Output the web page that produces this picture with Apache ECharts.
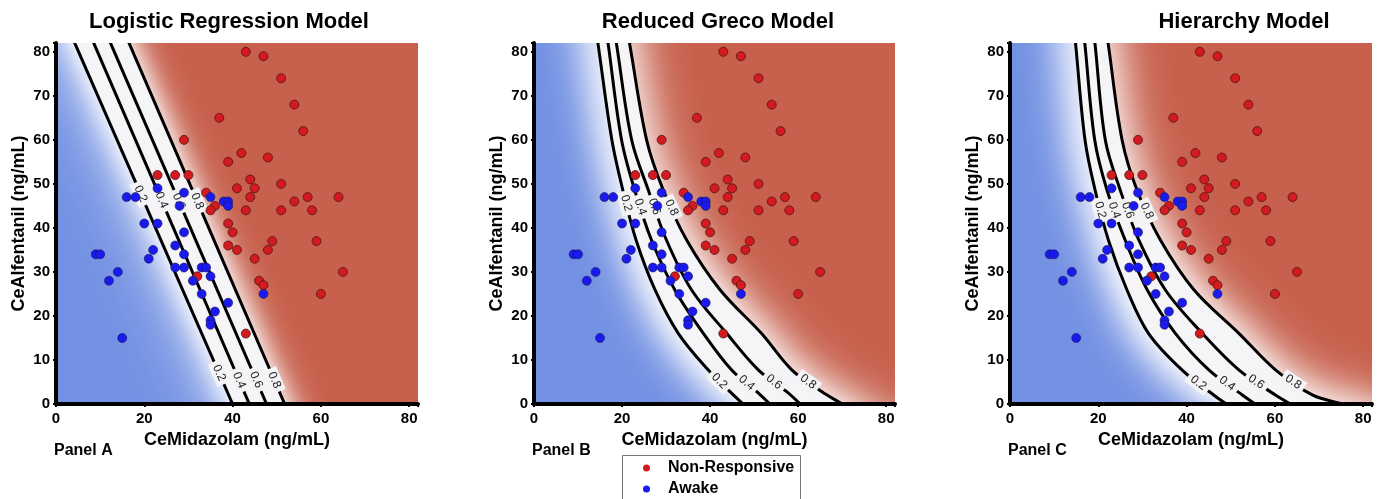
<!DOCTYPE html>
<html><head><meta charset="utf-8">
<script src="https://cdn.jsdelivr.net/npm/echarts@6/dist/echarts.min.js"></script>
<style>html,body{margin:0;padding:0;background:#fff}#c{width:1381px;height:499px}</style>
</head><body><div id="c"></div>
<script>
// ---------- data ----------
const nonResponsive = [[43,80],[47,79],[51,74],[54,68],[37,65],[56,62],[29,60],[42,57],[48,56],[39,55],[23,52],[27,52],[30,52],[44,51],[51,50],[41,49],[45,49],[34,48],[44,47],[57,47],[64,47],[54,46],[36,45],[35,44],[43,44],[51,44],[58,44],[39,41],[40,39],[49,37],[59,37],[39,36],[41,35],[48,35],[45,33],[65,30],[32,29],[46,28],[47,27],[60,25],[43,16]];
const awake = [[23,49],[29,48],[16,47],[18,47],[35,47],[38,46],[39,46],[39,45],[28,45],[20,41],[23,41],[29,39],[27,36],[29,34],[22,35],[21,33],[9,34],[10,34],[27,31],[29,31],[33,31],[34,31],[14,30],[12,28],[35,29],[31,28],[33,25],[47,25],[39,23],[36,21],[35,19],[35,18],[15,15]];

const contourLevels = ['0.2','0.4','0.6','0.8'];
const xTicks = [0,20,40,60,80];
const yTicks = [0,10,20,30,40,50,60,70,80];

// Logistic regression model contours
const logistic02 = [[4.5,81.4],[40.0,0]];
const logistic04 = [[8.8,81.4],[43.8,0]];
const logistic06 = [[12.6,81.4],[47.7,0]];
const logistic08 = [[16.8,81.4],[51.8,0]];
const logisticLabels = [[18.4,47.4,0],[23.9,46.3,1],[27.5,45.9,2],[31.6,45.9,3],[36.8,7.0,0],[41.5,5.4,1],[45.1,5.4,2],[49.4,5.4,3]];

// Reduced Greco model contours
const greco02 = [[14.6,81.4],[17.7,59.9],[20.2,48.5],[23.2,37.2],[27.5,25.9],[32.8,16.0],[39.6,7.7],[44.5,2.8],[47.5,0]];
const greco04 = [[16.9,81.4],[19.9,59.9],[22.9,48.5],[26.7,37.2],[32.0,25.9],[38.5,16.0],[44.9,7.7],[50.6,2.8],[53.6,0]];
const greco06 = [[18.8,81.4],[22.2,59.9],[26.0,48.5],[30.1,37.2],[35.8,25.9],[43.8,16.0],[51.0,7.7],[57.4,2.8],[60.5,0]];
const greco08 = [[21.8,81.4],[25.6,59.9],[29.4,48.5],[34.7,37.2],[42.3,25.9],[51.7,16.0],[58.6,7.7],[65.4,2.8],[70.0,0]];
const grecoLabels = [[20.5,45.5,0],[23.9,44.7,1],[27.0,44.7,2],[30.8,44.4,3],[42.0,5.1,0],[48.2,4.7,1],[54.3,4.7,2],[62.0,4.7,3]];

// Hierarchy model contours
const hier02 = [[14.9,81.4],[17.0,59.9],[19.3,48.5],[22.3,37.2],[26.5,25.9],[31.4,16.0],[39.0,7.7],[46.2,2.0],[49.0,0]];
const hier04 = [[17.0,81.4],[19.2,59.9],[22.0,48.5],[26.1,37.2],[31.1,25.9],[37.5,16.0],[45.1,7.7],[52.7,2.0],[55.5,0]];
const hier06 = [[19.3,81.4],[21.6,59.9],[25.0,48.5],[29.2,37.2],[35.2,25.9],[43.6,16.0],[51.9,7.7],[60.2,2.0],[63.5,0]];
const hier08 = [[22.3,81.4],[25.4,59.9],[28.8,48.5],[34.1,37.2],[41.7,25.9],[51.9,16.0],[60.2,7.7],[68.6,2.0],[75.4,0]];
const hierLabels = [[20.2,44.0,0],[23.7,44.0,1],[26.7,44.0,2],[31.3,44.0,3],[42.0,3.9,0],[48.5,3.7,1],[54.9,3.7,2],[63.3,3.7,3]];

// ---------- styling / layout ----------
const FONT = "'Liberation Sans', Arial, sans-serif";
const BLUE = '#7391e3', RED = '#c7604c';
const SMOOTH = 0.35;

const panels = [
  {grid:{left:56, top:43, width:362, height:361}, contours:[logistic02,logistic04,logistic06,logistic08], labels:logisticLabels,
   title:'Logistic Regression Model', tx:224, name:'Panel A', nx:49, blurBlue:80, blurRed:40},
  {grid:{left:534, top:43, width:361, height:361}, contours:[greco02,greco04,greco06,greco08], labels:grecoLabels,
   title:'Reduced Greco Model', tx:713, name:'Panel B', nx:527, blurBlue:50, blurRed:60},
  {grid:{left:1010, top:43, width:362, height:361}, contours:[hier02,hier04,hier06,hier08], labels:hierLabels,
   title:'Hierarchy Model', tx:1239, name:'Panel C', nx:1003, blurBlue:50, blurRed:60}
];

// continue a contour's end segments off the plot (clipped away)
function extendEnds(pts){
  const n = pts.length, a = pts[0], b = pts[1], c = pts[n-2], d = pts[n-1];
  const u1 = [a[0]-b[0], a[1]-b[1]], l1 = Math.hypot(u1[0],u1[1]);
  const u2 = [d[0]-c[0], d[1]-c[1]], l2 = Math.hypot(u2[0],u2[1]);
  const out = [];
  [120,60].forEach(k => out.push([a[0]+u1[0]/l1*k, a[1]+u1[1]/l1*k]));
  pts.forEach(p => out.push(p));
  [60,120].forEach(k => out.push([d[0]+u2[0]/l2*k, d[1]+u2[1]/l2*k]));
  return out;
}

function nearestOnPoly(pt, poly){
  let best = null, bd = Infinity;
  for (let j = 0; j < poly.length-1; j++){
    const a = poly[j], b = poly[j+1], vx = b[0]-a[0], vy = b[1]-a[1], L = vx*vx+vy*vy;
    let t = ((pt[0]-a[0])*vx + (pt[1]-a[1])*vy)/L; t = Math.max(0, Math.min(1, t));
    const qx = a[0]+t*vx, qy = a[1]+t*vy, dd = (qx-pt[0])**2 + (qy-pt[1])**2;
    if (dd < bd){ bd = dd; best = {x:qx, y:qy, ang:Math.atan2(vy, vx)}; }
  }
  return best;
}

const grids = [], xAxes = [], yAxes = [], series = [], titles = [];
panels.forEach((p, i) => {
  grids.push(Object.assign({show:true, backgroundColor:BLUE, borderWidth:0}, p.grid));
  xAxes.push({type:'value', gridIndex:i, min:0, max:82, interval:20, z:10,
    name:'CeMidazolam (ng/mL)', nameLocation:'middle', nameGap:26,
    nameTextStyle:{fontSize:18, fontWeight:'bold', color:'#000', fontFamily:FONT},
    axisLine:{show:true, onZero:false, lineStyle:{color:'#000', width:4}},
    axisTick:{show:true, length:3, lineStyle:{color:'#000', width:2}},
    axisLabel:{color:'#000', fontSize:15, fontWeight:'bold', fontFamily:FONT, margin:7,
      formatter: v => xTicks.indexOf(v) >= 0 ? String(v) : ''},
    splitLine:{show:false}});
  yAxes.push({type:'value', gridIndex:i, min:0, max:82, interval:10, z:10,
    name:'CeAlfentanil (ng/mL)', nameLocation:'middle', nameGap:28,
    nameTextStyle:{fontSize:18, fontWeight:'bold', color:'#000', fontFamily:FONT},
    axisLine:{show:true, onZero:false, lineStyle:{color:'#000', width:4}},
    axisTick:{show:true, length:3, lineStyle:{color:'#000', width:2}},
    axisLabel:{color:'#000', fontSize:15, fontWeight:'bold', fontFamily:FONT, margin:6,
      formatter: v => yTicks.indexOf(v) >= 0 ? String(v) : ''},
    splitLine:{show:false}});

  const ext = p.contours.map(extendEnds);

  // background probability shading between / beyond the 0.2 and 0.8 contours
  series.push({type:'custom', xAxisIndex:i, yAxisIndex:i, clip:true, silent:true, z:1,
    data:[[0,0]],
    renderItem: (params, api) => {
      const c02 = ext[0].map(q => api.coord(q)), c08 = ext[3].map(q => api.coord(q));
      const band = c02.concat(c08.slice().reverse());
      const big = 6000;
      const red = c08.concat([[big, c08[c08.length-1][1]], [big, c08[0][1]]]);
      return {type:'group', children:[
        {type:'polygon', shape:{points:band, smooth:SMOOTH}, style:{fill:'#f5f4f7', shadowBlur:p.blurBlue, shadowColor:'rgba(255,255,255,0.9)'}},
        {type:'polygon', shape:{points:red, smooth:SMOOTH}, style:{fill:RED}},
        {type:'polygon', shape:{points:band, smooth:SMOOTH}, style:{fill:'#f5f4f7', shadowBlur:p.blurRed, shadowColor:'#ffffff'}},
        {type:'polygon', shape:{points:band, smooth:SMOOTH}, style:{fill:'#f5f4f7', shadowBlur:p.blurRed*0.6, shadowColor:'#ffffff'}}
      ]};
    }});

  // contour lines
  series.push({type:'custom', xAxisIndex:i, yAxisIndex:i, clip:true, silent:true, z:3,
    data: contourLevels.map((l, k) => [k, 0]),
    renderItem: (params, api) => {
      const pts = ext[params.dataIndex].map(q => api.coord(q));
      return {type:'polyline', shape:{points:pts, smooth:SMOOTH}, style:{stroke:'#000', lineWidth:3, fill:null}};
    }});

  // contour labels
  series.push({type:'custom', xAxisIndex:i, yAxisIndex:i, clip:true, silent:true, z:4,
    data: p.labels,
    renderItem: (params, api) => {
      const k = api.value(2);
      const pt = api.coord([api.value(0), api.value(1)]);
      const poly = ext[k].map(q => api.coord(q));
      const n = nearestOnPoly(pt, poly);
      return {type:'text', x:n.x, y:n.y, rotation:-n.ang,
        style:{text:contourLevels[k], fill:'#222', fontSize:12, fontFamily:FONT, align:'center', verticalAlign:'middle',
               backgroundColor:'#f4f3f6', padding:[1,4]}};
    }});

  series.push({type:'scatter', name:'Non-Responsive', xAxisIndex:i, yAxisIndex:i, z:6, symbolSize:9, data:nonResponsive,
    itemStyle:{color:'#d41a1e', borderColor:'#4d1515', borderWidth:0.8, opacity:1}});
  series.push({type:'scatter', name:'Awake', xAxisIndex:i, yAxisIndex:i, z:6, symbolSize:9, data:awake,
    itemStyle:{color:'#1a1aef', borderColor:'#15154d', borderWidth:0.6, opacity:1}});

  titles.push({text:p.title, left:p.tx, top:6, textAlign:'center',
    textStyle:{fontSize:22, fontWeight:'bold', color:'#000', fontFamily:FONT}});
  titles.push({text:p.name, left:p.nx, top:438,
    textStyle:{fontSize:16, fontWeight:'bold', color:'#000', fontFamily:FONT}});
});

const legendCommon = {orient:'vertical', padding:0, itemWidth:7, itemHeight:7, icon:'circle',
  itemStyle:{borderWidth:0},
  textStyle:{fontSize:16, fontWeight:'bold', color:'#000', fontFamily:FONT, lineHeight:16, padding:[0,0,0,13]}};

const chart = echarts.init(document.getElementById('c'), null, {renderer:'canvas'});
chart.setOption({
  animation:false,
  backgroundColor:'#fff',
  title: titles,
  grid: grids, xAxis: xAxes, yAxis: yAxes, series: series,
  legend:[
    Object.assign({data:['Non-Responsive'], left:643, top:460}, legendCommon),
    Object.assign({data:['Awake'], left:643, top:481}, legendCommon)
  ],
  graphic:[{type:'rect', silent:true, shape:{x:622.5, y:455.5, width:178, height:60},
    style:{fill:'none', stroke:'#777', lineWidth:1}}]
});
</script></body></html>
